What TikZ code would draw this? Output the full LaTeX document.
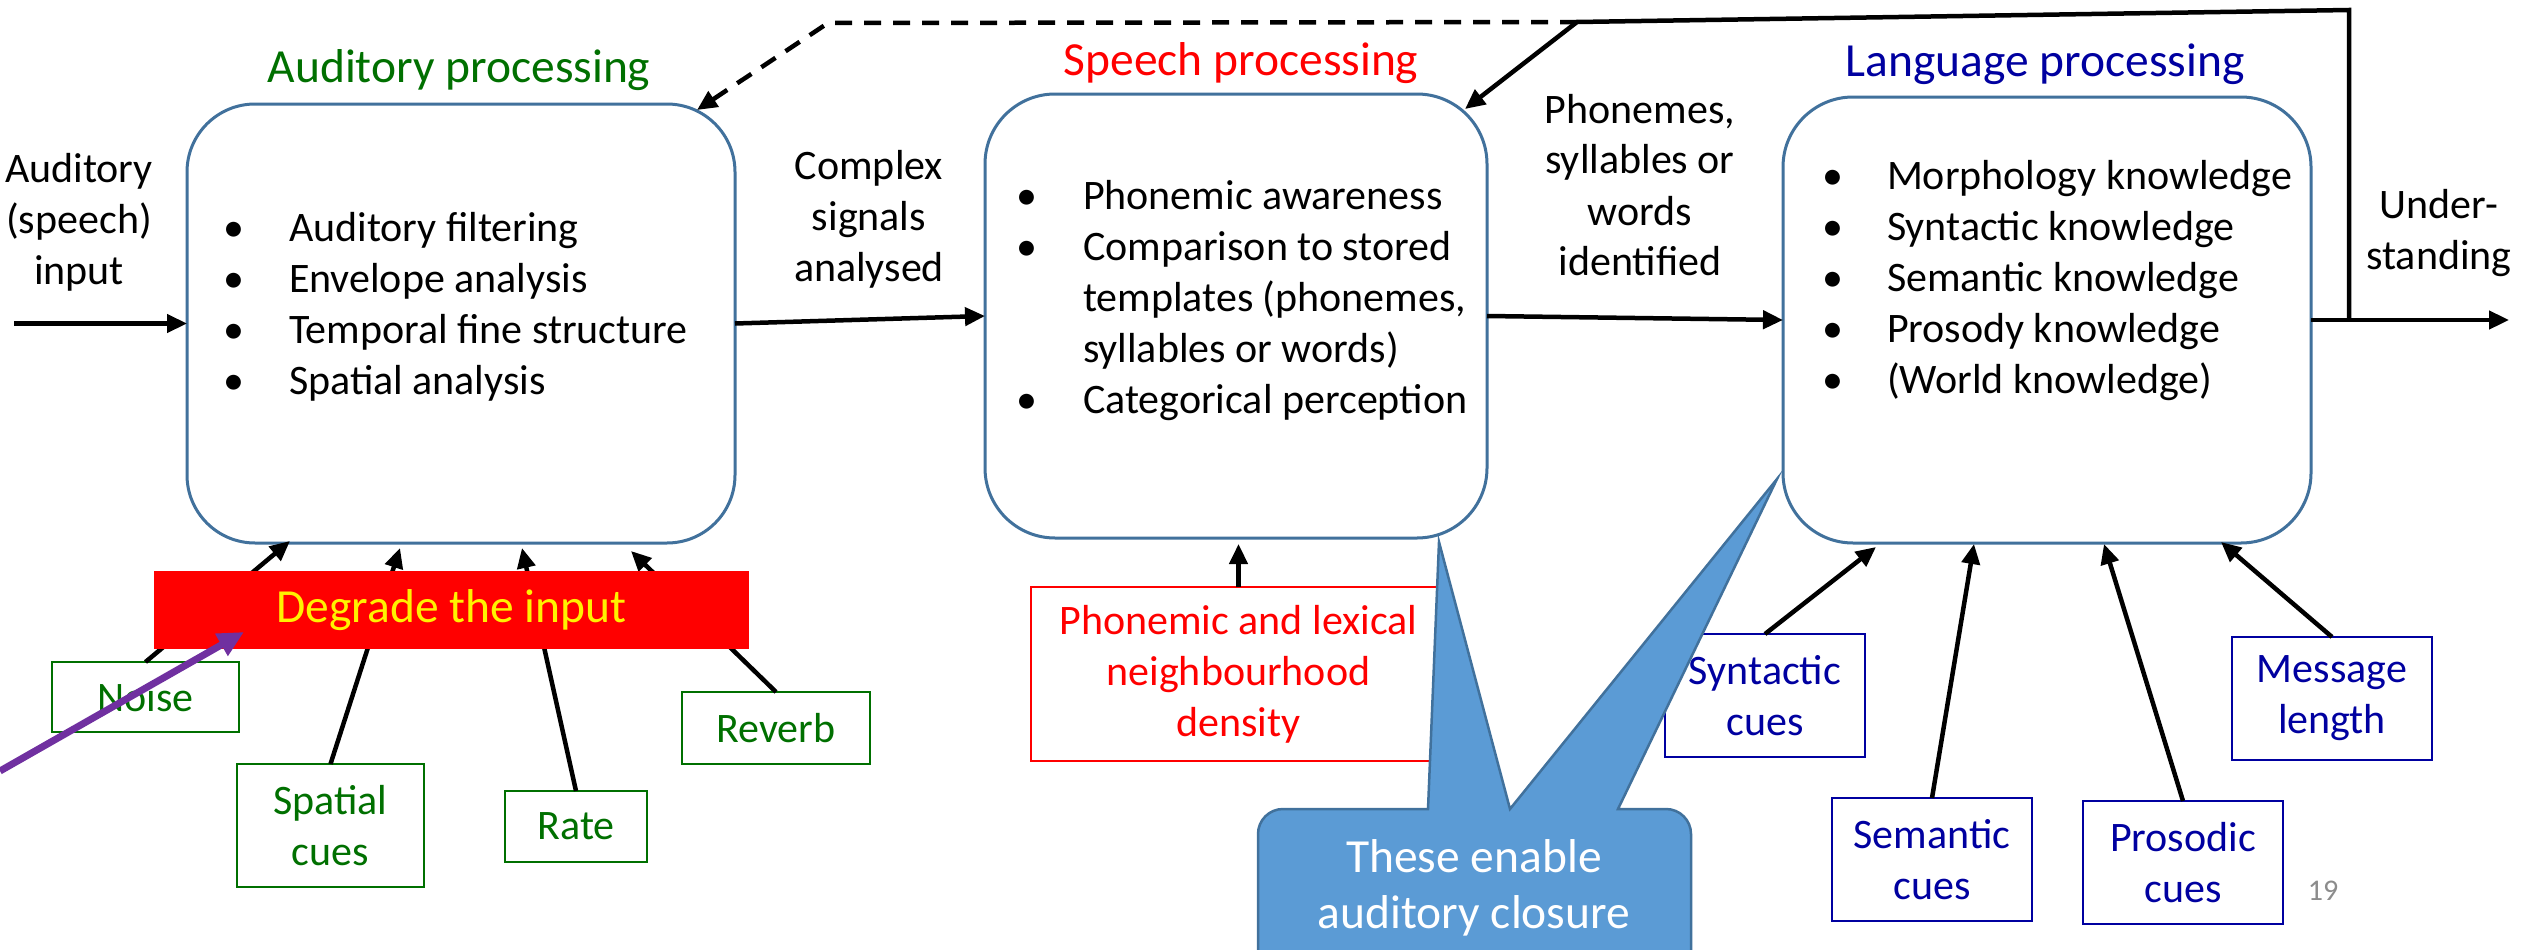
\documentclass[tikz,border=0pt]{standalone}
\usepackage{fontspec}
\setmainfont{Carlito}
\usetikzlibrary{arrows.meta}
\definecolor{boxblue}{RGB}{65,113,156}
\definecolor{agreen}{RGB}{0,112,0}
\definecolor{lblue}{RGB}{0,0,160}
\definecolor{callfill}{RGB}{91,155,213}
\definecolor{callline}{RGB}{65,113,156}
\definecolor{purp}{RGB}{112,48,160}
\definecolor{pgray}{RGB}{140,140,140}
\begin{document}
\begin{tikzpicture}[x=1pt,y=-1pt,
  every node/.style={inner sep=0pt, outer sep=0pt},
  body/.style={font=\fontsize{42}{51}\selectfont},
  big/.style={font=\fontsize{47.5}{56}\selectfont},
  ttl/.style={big, anchor=base},
  proc/.style={draw=boxblue, line width=3pt, rounded corners=68pt},
  lbl/.style={body, anchor=base, text width=300pt, align=flush center},
  cue/.style={draw, line width=2.5pt, body, align=flush center},
  gcue/.style={cue, draw=agreen, text=agreen, text width=130pt},
  bcue/.style={cue, draw=lblue, text=lblue, text width=170pt, minimum width=200pt, minimum height=123pt},
  arr/.style={line width=4.5pt, -{Triangle[length=20pt,width=18pt]}},
]
\useasboundingbox (0,0) rectangle (2522,950);
\fill[white] (0,0) rectangle (2522,950);
\clip (0,0) rectangle (2522,950);

% processing boxes
\node[proc, minimum width=548pt, minimum height=439pt] (aud) at (461,323.5) {};
\node[proc, rounded corners=70pt, minimum width=502pt, minimum height=444pt] (speech) at (1236,316) {};
\node[proc, rounded corners=70pt, minimum width=528pt, minimum height=446pt] (lang) at (2047,320) {};

% titles
\node[ttl, text=agreen] (audTitle) at (459,82) {Auditory processing};
\node[ttl, text=red] (speechTitle) at (1241,76) {Speech processing};
\node[ttl, text=lblue] (langTitle) at (2045,77) {Language processing};

% lists
\foreach \t [count=\i] in {Auditory filtering, Envelope analysis, Temporal fine structure, Spatial analysis}{
  \node[body, anchor=base west] (audI\i) at (289,190+51*\i) {\t};
  \node[body, anchor=base] (audB\i) at (234,190+51*\i) {•};
}
\foreach \t [count=\i] in {Phonemic awareness, Comparison to stored, {templates (phonemes,}, {syllables or words)}, Categorical perception}{
  \node[body, anchor=base west] (spI\i) at (1083,158+51*\i) {\t};
}
\foreach \i in {1,2,5}{
  \node[body, anchor=base] (spB\i) at (1027,158+51*\i) {•};
}
\foreach \t [count=\i] in {Morphology knowledge, Syntactic knowledge, Semantic knowledge, Prosody knowledge, {(World knowledge)}}{
  \node[body, anchor=base west] (lgI\i) at (1887,138+51*\i) {\t};
  \node[body, anchor=base] (lgB\i) at (1833,138+51*\i) {•};
}

% flow labels
\node[lbl] (inLbl) at (79,182) {Auditory\\(speech)\\input};
\node[lbl] (cxLbl) at (869,179) {Complex\\signals\\analysed};
\node[lbl] (phLbl) at (1640,123) {Phonemes,\\syllables or\\words\\identified};
\node[lbl] (unLbl) at (2439,218) {Under-\\standing};

% cue boxes
\node[gcue, minimum width=187pt, minimum height=70pt] (noise) at (145.5,697) {Noise};
\node[gcue, minimum width=187pt, minimum height=123pt] (spatial) at (330.5,825.5) {Spatial\\cues};
\node[gcue, minimum width=142pt, minimum height=71pt] (rate) at (576,826.5) {Rate};
\node[gcue, minimum width=188pt, minimum height=72pt] (reverb) at (776,728) {Reverb};

\node[bcue] (syn) at (1765,695.5) {Syntactic\\cues};
\node[bcue] (sem) at (1932,859.5) {Semantic\\cues};
\node[bcue] (pros) at (2183,862.5) {Prosodic\\cues};
\node[bcue] (msg) at (2332,698.5) {Message\\length};

% cue arrows
\draw[arr] (noise.north) -- ([xshift=-171pt,yshift=2pt]aud.south);
\draw[arr] (spatial.north) -- ([xshift=-61pt,yshift=-5pt]aud.south);
\draw[arr] (rate.north) -- ([xshift=61pt,yshift=-5pt]aud.south);
\draw[arr] (reverb.north) -- ([xshift=170pt,yshift=-8pt]aud.south);

\draw[arr] (syn.north) -- ([xshift=-171pt,yshift=-4pt]lang.south);
\draw[arr] (sem.north) -- ([xshift=-73pt,yshift=-1pt]lang.south);
\draw[arr] (pros.north) -- ([xshift=57pt,yshift=-1pt]lang.south);
\draw[arr] (msg.north) -- ([xshift=174pt,yshift=1pt]lang.south);

% degrade box
\node[big, fill=red, minimum width=595pt, minimum height=78pt, text=yellow] (degrade) at (451.5,610) {Degrade the input};

% main flow
\coordinate (inS) at (14,323.5);
\coordinate (outE) at (2509,320);
\coordinate (tap) at (2349,320);
\coordinate (topR) at (2349,10);
\coordinate (split) at (1577,22);
\coordinate (dashC) at (828,23);
\draw[arr] (inS) -- (aud.west);
\draw[arr] (aud.east) -- (speech.west);
\draw[arr] (speech.east) -- (lang.west);
\draw[arr] (lang.east) -- (outE);
\draw[line width=4.5pt] (tap) -- (topR) -- (split);
\draw[arr] (split) -- ([xshift=-22pt,yshift=-15pt]speech.north east);
\draw[arr, dash pattern=on 17pt off 12pt] (split) -- (dashC) -- ([xshift=-38pt,yshift=-6pt]aud.north east);

% phonemic box
\node[draw=red, line width=2.5pt, text=red, body, align=flush center, text width=400pt, minimum width=415pt, minimum height=174pt] (phon) at (1238.5,674) {Phonemic and lexical\\neighbourhood\\density};
\draw[arr] (phon.north) -- ([yshift=-6pt]phon.north |- speech.south);

% callout
\filldraw[fill=callfill, draw=callline, line width=2.5pt] (1258,1000) -- (1258,834) arc[start angle=180,end angle=90,radius=25pt] -- (1428,809) -- (1439,542) -- (1510,809) -- (1777,479) -- (1618,809) -- (1666,809) arc[start angle=90,end angle=0,radius=25pt] -- (1691,1000) -- cycle;
\node[big, anchor=base, text=white, text width=420pt, align=flush center] (closeT) at (1474,872) {These enable\\auditory closure};

% purple arrow
\coordinate (pS) at (0,771);
\coordinate (pE) at (244,632);
\draw[purp, line width=7pt, -{Triangle[length=26pt,width=24pt]}] (pS) -- (pE);

% page number
\node[anchor=base, text=pgray, font=\fontsize{30}{36}\selectfont] (pg) at (2323,900) {19};
\end{tikzpicture}
\end{document}
